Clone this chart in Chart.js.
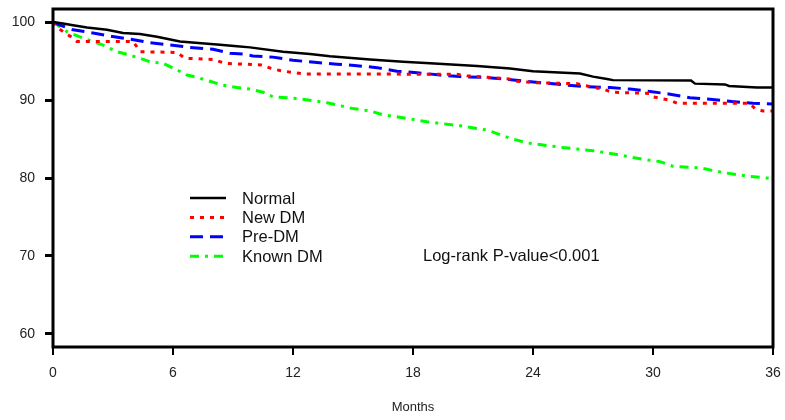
<!DOCTYPE html>
<html>
<head>
<meta charset="utf-8">
<script src="https://cdn.jsdelivr.net/npm/chart.js@4.4.1/dist/chart.umd.min.js"></script>
<style>
  html, body { margin: 0; padding: 0; background: #fff; }
  #wrap { width: 785px; height: 420px; }
</style>
</head>
<body>
<div id="wrap"><canvas id="kmChart" width="785" height="420"></canvas></div>
<script>
// series
var seriesNames = ['Normal', 'New DM', 'Pre-DM', 'Known DM'];
var seriesColors = ['#000000', '#ff0000', '#0000ff', '#00ff00'];
var seriesDash = [[], [4, 6], [13, 7], [9, 6, 3, 6]];

// months / survival (%)
var normalMonths = [0, 0.5, 1.0, 1.7, 2.7, 3.5, 4.35, 5.2, 6.35, 8.35, 9.2, 9.85, 11.5, 12.85, 13.85, 15.85, 17.5, 18.85, 21.2, 22.85, 24.0, 26.35, 27.0, 27.7, 28.0, 31.9, 32.1, 33.6, 33.8, 35.2, 36];
var normalSurv = [100, 99.8, 99.6, 99.3, 99.0, 98.6, 98.45, 98.1, 97.5, 97.1, 96.9, 96.75, 96.2, 95.9, 95.6, 95.2, 94.9, 94.7, 94.35, 94.05, 93.7, 93.4, 93.0, 92.7, 92.55, 92.5, 92.1, 92.0, 91.8, 91.6, 91.6];

var newMonths = [0, 0.25, 0.9, 1.2, 4.0, 4.2, 4.35, 6.2, 6.6, 8.0, 8.6, 10.4, 10.9, 11.4, 12.5, 20.2, 20.7, 22.8, 23.2, 24.3, 26.2, 26.5, 27.5, 27.95, 29.8, 30.0, 30.8, 31.2, 34.8, 35.1, 35.5, 36];
var newSurv = [100, 99.2, 98.1, 97.5, 97.5, 96.8, 96.2, 96.1, 95.35, 95.2, 94.7, 94.5, 94.05, 93.75, 93.35, 93.3, 93.1, 92.7, 92.4, 92.2, 92.1, 91.9, 91.4, 91.0, 90.85, 90.4, 90.0, 89.6, 89.6, 88.9, 88.6, 88.6];

var preMonths = [0, 0.35, 1.0, 2.0, 2.85, 3.85, 4.85, 5.85, 6.85, 8.0, 8.85, 9.5, 10.0, 11.0, 12.0, 13.2, 14.2, 15.2, 16.2, 17.2, 18.2, 19.35, 20.35, 21.5, 22.5, 23.7, 24.7, 25.7, 26.7, 27.85, 28.85, 29.85, 30.85, 31.85, 32.85, 33.95, 35.0, 36];
var preSurv = [100, 99.6, 99.0, 98.6, 98.2, 97.8, 97.35, 97.05, 96.75, 96.5, 96.0, 95.9, 95.65, 95.5, 95.1, 94.8, 94.6, 94.4, 94.15, 93.7, 93.5, 93.2, 93.0, 92.9, 92.7, 92.4, 92.15, 91.9, 91.7, 91.6, 91.4, 91.1, 90.75, 90.3, 90.1, 89.8, 89.6, 89.5];

var knownMonths = [0, 0.35, 0.7, 1.35, 2.0, 2.5, 3.2, 3.7, 4.35, 4.85, 5.5, 6.2, 6.7, 7.2, 7.85, 8.5, 9.2, 9.85, 10.5, 11.0, 11.7, 12.5, 13.7, 15.0, 15.85, 16.5, 17.7, 18.7, 20.35, 21.7, 22.85, 23.7, 25.5, 27.0, 28.2, 29.5, 30.35, 31.0, 32.35, 33.5, 34.85, 35.7, 36];
var knownSurv = [100, 99.4, 98.75, 98.1, 97.5, 97.05, 96.2, 95.85, 95.35, 94.9, 94.7, 93.85, 93.2, 92.9, 92.4, 91.9, 91.6, 91.4, 91.0, 90.4, 90.3, 90.1, 89.65, 88.9, 88.6, 88.1, 87.65, 87.2, 86.7, 86.15, 85.1, 84.5, 83.9, 83.5, 83.0, 82.4, 82.1, 81.5, 81.3, 80.7, 80.2, 80.0, 79.9];

// axes
var xTicks = [0, 6, 12, 18, 24, 30, 36];
var yTicks = [60, 70, 80, 90, 100];
var xTitle = 'Months';
var pValueText = 'Log-rank P-value<0.001';

var FONT = "'Liberation Sans', Arial, sans-serif";

function toPoints(xs, ys) {
  return xs.map(function (x, i) { return { x: x, y: ys[i] }; });
}

var allMonths = [normalMonths, newMonths, preMonths, knownMonths];
var allSurv = [normalSurv, newSurv, preSurv, knownSurv];

var datasets = seriesNames.map(function (name, i) {
  return {
    label: name,
    data: toPoints(allMonths[i], allSurv[i]),
    borderColor: seriesColors[i],
    borderDash: seriesDash[i],
    borderWidth: i === 0 ? 2.5 : 3,
    pointRadius: 0,
    tension: 0,
    fill: false
  };
});

var frameAndNotes = {
  id: 'frameAndNotes',
  afterDraw: function (chart) {
    var ctx = chart.ctx;
    var a = chart.chartArea;
    ctx.save();
    // plot frame
    ctx.strokeStyle = '#000';
    ctx.lineWidth = 3;
    ctx.setLineDash([]);
    ctx.strokeRect(a.left, a.top, a.right - a.left, a.bottom - a.top);

    // legend inside plot
    ctx.font = '16.5px ' + FONT;
    ctx.textBaseline = 'middle';
    ctx.textAlign = 'left';
    for (var i = 0; i < seriesNames.length; i++) {
      var y = 198 + i * 19.4;
      ctx.beginPath();
      ctx.strokeStyle = seriesColors[i];
      ctx.lineWidth = i === 0 ? 2.5 : 3;
      ctx.setLineDash(seriesDash[i]);
      ctx.moveTo(190, y);
      ctx.lineTo(226, y);
      ctx.stroke();
      ctx.fillStyle = '#111';
      ctx.fillText(seriesNames[i], 242, y + 1);
    }

    ctx.setLineDash([]);
    ctx.fillText(pValueText, 423, 256);

    // x axis title
    ctx.font = '13px ' + FONT;
    ctx.textAlign = 'center';
    ctx.fillStyle = '#222';
    ctx.fillText(xTitle, (a.left + a.right) / 2, 407);
    ctx.restore();
  }
};

var ctx = document.getElementById('kmChart').getContext('2d');
var kmChart = new Chart(ctx, {
  type: 'line',
  data: { datasets: datasets },
  options: {
    responsive: false,
    animation: false,
    layout: { padding: { left: 0, top: 9, right: 12, bottom: 0 } },
    plugins: {
      legend: { display: false },
      tooltip: { enabled: false }
    },
    scales: {
      x: {
        type: 'linear',
        min: 0,
        max: 36,
        afterBuildTicks: function (axis) {
          axis.ticks = xTicks.map(function (v) { return { value: v }; });
        },
        afterFit: function (scale) {
          scale.height = 73;
          scale.paddingLeft = 0;
          scale.paddingRight = 0;
        },
        border: { display: false },
        grid: {
          drawOnChartArea: false,
          drawTicks: true,
          tickLength: 8,
          color: '#000',
          lineWidth: 2
        },
        ticks: {
          color: '#222',
          font: { family: FONT, size: 14 },
          padding: 10,
          maxRotation: 0
        }
      },
      y: {
        type: 'linear',
        min: 58.33,
        max: 101.67,
        afterBuildTicks: function (axis) {
          axis.ticks = yTicks.map(function (v) { return { value: v }; });
        },
        afterFit: function (scale) {
          scale.width = 53;
          scale.paddingTop = 0;
          scale.paddingBottom = 0;
        },
        border: { display: false },
        grid: {
          drawOnChartArea: false,
          drawTicks: true,
          tickLength: 8,
          color: '#000',
          lineWidth: 3
        },
        ticks: {
          color: '#222',
          font: { family: FONT, size: 14 },
          padding: 10
        }
      }
    }
  },
  plugins: [frameAndNotes]
});
</script>
</body>
</html>
